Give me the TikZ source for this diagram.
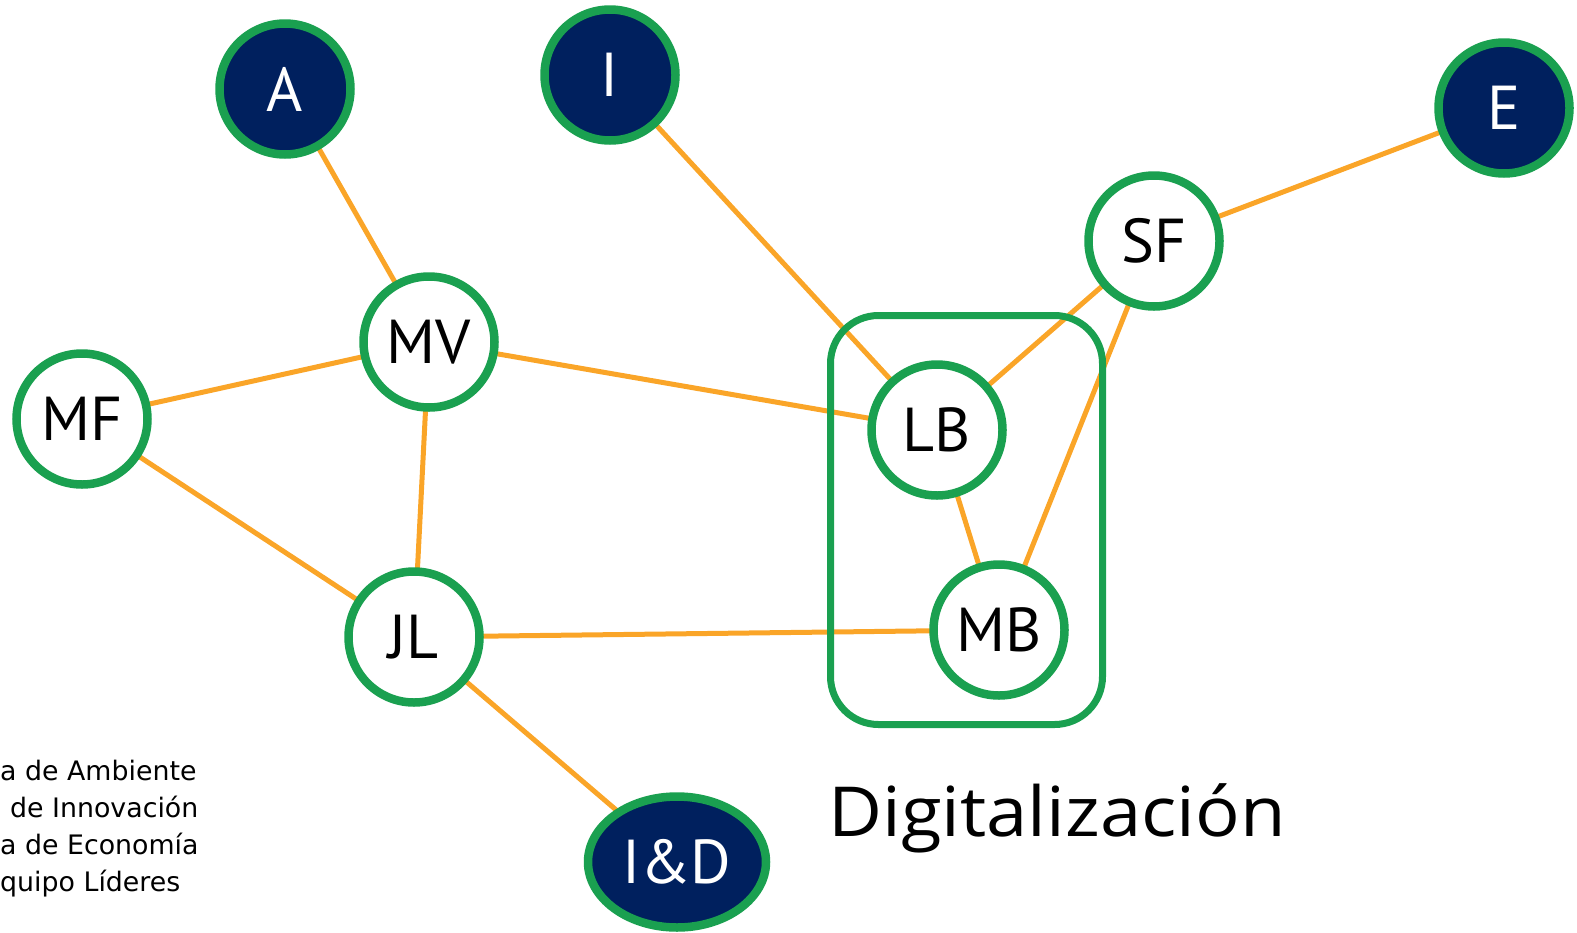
\documentclass[tikz,border=0pt]{standalone}
\usepackage{fontspec}
\usepackage{graphicx}
\setmainfont{PT Sans}
\newfontfamily\legfont{DejaVu Sans}
\newfontfamily\digfont{Open Sans}
\usetikzlibrary{shapes.geometric}
\definecolor{navy}{RGB}{0,32,94}
\definecolor{grn}{RGB}{26,160,80}
\definecolor{org}{RGB}{250,165,40}
\tikzset{
  pnode/.style={circle,draw=grn,line width=8.5pt,fill=white,minimum size=131pt,inner sep=0pt,font=\fontsize{62}{62}\selectfont,text=black},
  dnode/.style={pnode,fill=navy,text=white},
  link/.style={draw=org,line width=5pt},
  grp/.style={draw=grn,line width=7pt,rounded corners=48pt},
  leg/.style={anchor=base west,inner sep=0pt,font=\legfont\fontsize{26.8}{26.8}\selectfont}
}
\begin{document}
\begin{tikzpicture}[x=1pt,y=-1pt]
\useasboundingbox (0,0) rectangle (1577,932);
% edges
\coordinate (cA) at (285,89);
\coordinate (cI) at (610,75);
\coordinate (cE) at (1504,108);
\coordinate (cSF) at (1154,241);
\coordinate (cMV) at (429,342);
\coordinate (cMF) at (82,419);
\coordinate (cLB) at (937,430);
\coordinate (cJL) at (414,637);
\coordinate (cMB) at (999,630);
\coordinate (cID) at (677,862);
\draw[link] (cA) -- (cMV);
\draw[link] (cI) -- (cLB);
\draw[link] (cE) -- (cSF);
\draw[link] (cSF) -- (cLB);
\draw[link] (cSF) -- (cMB);
\draw[link] (cMV) -- (cMF);
\draw[link] (cMV) -- (cLB);
\draw[link] (cMV) -- (cJL);
\draw[link] (cMF) -- (cJL);
\draw[link] (cJL) -- (cMB);
\draw[link] (cJL) -- (cID);
\draw[link] (cLB) -- (cMB);
% group box
\node[grp,minimum width=272pt,minimum height=409pt,inner sep=0pt] (box) at (966.5,520) {};
% nodes
\node[dnode] (A) at (cA) {A};
\node[dnode] (I) at (cI) {I};
\node[dnode] (E) at (cE) {E};
\node[pnode] (SF) at (cSF) {SF};
\node[pnode] (MV) at (cMV) {MV};
\node[pnode] (MF) at (cMF) {MF};
\node[pnode] (LB) at (cLB) {LB};
\node[pnode] (JL) at (cJL) {JL};
\node[pnode] (MB) at (cMB) {MB};
\node[dnode,ellipse,minimum width=178pt,minimum height=131pt] (ID) at (cID) {I\&D};
% labels
\node[anchor=base west,inner sep=0pt,font=\digfont\fontsize{69}{69}\selectfont] (dig) at (828,836) {\scalebox{1.075}[1]{Digitalización}};
\node[leg] (l1) at (0,780) {a de Ambiente};
\node[leg] (l2) at (10,817) {de Innovación};
\node[leg] (l3) at (0,854) {a de Economía};
\node[leg] (l4) at (0,891) {quipo Líderes};
\end{tikzpicture}
\end{document}
